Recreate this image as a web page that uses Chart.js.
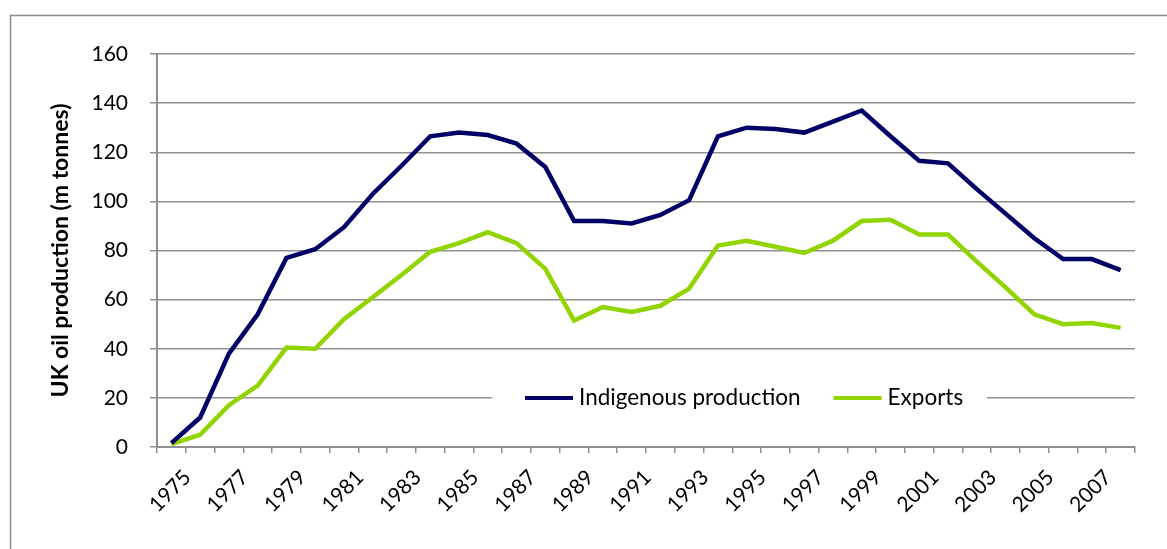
<!DOCTYPE html>
<html lang="en">
<head>
    <meta charset="UTF-8">
    <title>UK oil production</title>
    <style>
        html, body { margin: 0; padding: 0; background: #fff; }
        #wrap { position: absolute; left: 0; top: 0; width: 1167px; height: 549px; }
    </style>
</head>
<body>
    <div id="wrap"><canvas id="myChart" width="1167" height="549"></canvas></div>

    <script src="https://cdnjs.cloudflare.com/ajax/libs/Chart.js/4.4.0/chart.umd.min.js"></script>
    <script>
        // values (m tonnes)
        var years = ['1975', '1976', '1977', '1978', '1979', '1980', '1981', '1982', '1983', '1984',
                     '1985', '1986', '1987', '1988', '1989', '1990', '1991', '1992', '1993', '1994',
                     '1995', '1996', '1997', '1998', '1999', '2000', '2001', '2002', '2003', '2004',
                     '2005', '2006', '2007', '2008'];
        var indigenous = [1.6, 12, 38, 54, 77, 80.5, 89.5, 103, 114.5, 126.5,
                          128, 127, 123.5, 114, 92, 92, 91, 94.5, 100.5, 126.5,
                          130, 129.5, 128, 132.5, 137, 126.5, 116.5, 115.5, 105, 95,
                          85, 76.5, 76.5, 72];
        var exports = [1.2, 5, 17, 25, 40.5, 40, 52, 61, 70, 79.5,
                       83, 87.5, 83, 72.5, 51.5, 57, 55, 57.5, 64.5, 82,
                       84, 81.5, 79, 84, 92, 92.5, 86.5, 86.5, 75.5, 65,
                       54, 50, 50.5, 48.5];
        var yTicks = [0, 20, 40, 60, 80, 100, 120, 140, 160];

        var gridGrey = '#909090';
        var fontName = 'Lato, "Open Sans", sans-serif';

        // outer frame plus the legend sitting inside the plot
        var framePlugin = {
            id: 'frame',
            afterDraw: function (chart) {
                var ctx = chart.ctx;
                ctx.save();
                ctx.strokeStyle = '#8a8a8a';
                ctx.lineWidth = 1.5;
                ctx.strokeRect(10.5, 15.5, 1200, 600);

                var y = chart.scales.y.getPixelForValue(20);
                ctx.fillStyle = '#fff';
                ctx.fillRect(492, y - 14, 495, 28);

                ctx.font = '22.5px ' + fontName;
                ctx.textBaseline = 'middle';
                var x = 525;
                chart.data.datasets.forEach(function (ds) {
                    ctx.strokeStyle = ds.borderColor;
                    ctx.lineWidth = 4;
                    ctx.beginPath();
                    ctx.moveTo(x, y);
                    ctx.lineTo(x + 48, y);
                    ctx.stroke();
                    ctx.fillStyle = '#000';
                    ctx.fillText(ds.label, x + 54, y);
                    x += 54 + ctx.measureText(ds.label).width + 33;
                });
                ctx.restore();
            }
        };

        var ctx = document.getElementById('myChart').getContext('2d');
        var myChart = new Chart(ctx, {
            type: 'line',
            data: {
                labels: years,
                datasets: [
                    {
                        label: 'Indigenous production',
                        data: indigenous,
                        borderColor: '#000066',
                        borderWidth: 4.5,
                        pointRadius: 0,
                        tension: 0,
                        fill: false
                    },
                    {
                        label: 'Exports',
                        data: exports,
                        borderColor: '#92d400',
                        borderWidth: 4.5,
                        pointRadius: 0,
                        tension: 0,
                        fill: false
                    }
                ]
            },
            options: {
                responsive: false,
                animation: false,
                layout: { padding: { left: 10, top: 54, right: 32, bottom: 12 } },
                plugins: {
                    legend: { display: false },
                    tooltip: { enabled: false }
                },
                scales: {
                    x: {
                        offset: true,
                        afterFit: function (scale) { scale.height = 90; },
                        grid: {
                            offset: true,
                            drawOnChartArea: false,
                            drawTicks: true,
                            tickLength: 6,
                            color: gridGrey,
                            lineWidth: 1.5
                        },
                        border: { color: gridGrey, width: 2 },
                        ticks: {
                            autoSkip: false,
                            minRotation: 45,
                            maxRotation: 45,
                            labelOffset: 16,
                            padding: 12,
                            color: '#000',
                            font: { family: fontName, size: 21 },
                            callback: function (value, index) {
                                return index % 2 === 0 ? this.getLabelForValue(value) : '';
                            }
                        }
                    },
                    y: {
                        min: 0,
                        max: 160,
                        afterFit: function (scale) { scale.width = 147; },
                        afterBuildTicks: function (scale) {
                            scale.ticks = yTicks.map(function (v) { return { value: v }; });
                        },
                        grid: {
                            color: gridGrey,
                            lineWidth: 1.5,
                            drawTicks: true,
                            tickLength: 7
                        },
                        border: { color: gridGrey, width: 2 },
                        ticks: {
                            padding: 22,
                            color: '#000',
                            font: { family: fontName, size: 21 }
                        },
                        title: {
                            display: true,
                            text: 'UK oil production (m tonnes)',
                            color: '#000',
                            font: { family: fontName, size: 23, weight: 'bold' },
                            padding: { top: 37, bottom: 0 }
                        }
                    }
                }
            },
            plugins: [framePlugin]
        });
    </script>
</body>
</html>
